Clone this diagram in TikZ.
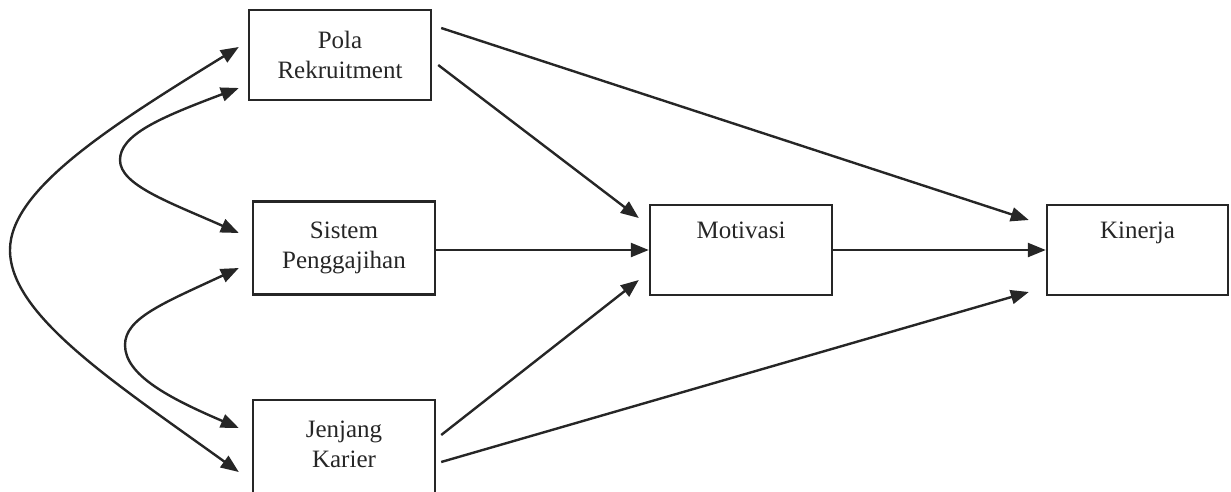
\documentclass[tikz,border=0pt]{standalone}
\usepackage{fontspec}
\setmainfont{Liberation Serif}
\usepackage{tikz}
\usetikzlibrary{arrows.meta,positioning}

\tikzset{
  box/.style={draw=black!85,line width=2.4pt,minimum width=182pt,minimum height=90pt,
    inner sep=0pt,align=center,text=black!85,font=\fontsize{25}{30}\selectfont},
  link/.style={line width=2.4pt,draw=black!85,-{Triangle[length=18pt,width=14pt]}},
  both/.style={line width=2.4pt,draw=black!85,
    {Triangle[length=18pt,width=14pt]}-{Triangle[length=18pt,width=14pt]}}
}

\begin{document}
\begin{tikzpicture}[x=1pt,y=1pt]
  \useasboundingbox (0,0) rectangle (1231,-491);
  % --- the three causes ---
  \node[box] (pola) at (340,-55) {Pola\\Rekruitment};
  \node[box,minimum height=93pt] (sistem) at (344,-248) {Sistem\\Penggajihan};
  \node[box,minimum height=98pt,text depth=9pt] (jenjang) at (344,-449) {Jenjang\\Karier};
  % --- mediator and outcome ---
  \node[box] (motivasi) at (741,-250) {Motivasi\\ \strut};
  \node[box,minimum width=181pt] (kinerja) at (1137.5,-250) {Kinerja\\ \strut};
  % bends of the correlation curves
  \coordinate (outerbend) at (10,-250);
  \coordinate (upperbend) at (120,-160);
  \coordinate (lowerbend) at (125,-345);
  % --- straight paths ---
  \draw[link] ([shift={(9,27)}]pola.east) -- ([shift={(-17,30)}]kinerja.west);
  \draw[link] ([shift={(6,-10)}]pola.east) -- ([shift={(-10,32)}]motivasi.west);
  \draw[link] (sistem.east |- motivasi.west) -- (motivasi.west);
  \draw[link] ([shift={(5,14)}]jenjang.east) -- ([shift={(-10,-30)}]motivasi.west);
  \draw[link] ([shift={(5,-13)}]jenjang.east) -- ([shift={(-17,-42)}]kinerja.west);
  \draw[link] (motivasi.east) -- (kinerja.west);
  % --- correlations on the left ---
  \draw[both] ([shift={(-9,8)}]pola.west) .. controls +(-130,-80) and +(0,60) .. (outerbend)
    .. controls +(0,-65) and +(-125,90) .. ([shift={(-13,-23)}]jenjang.west);
  \draw[both] ([shift={(-9,-33)}]pola.west) .. controls +(-80,-30) and +(0,25) .. (upperbend)
    .. controls +(0,-25) and +(-70,31) .. ([shift={(-13,15)}]sistem.west);
  \draw[both] ([shift={(-13,-20)}]sistem.west) .. controls +(-75,-35) and +(0,27) .. (lowerbend)
    .. controls +(0,-30) and +(-70,30) .. ([shift={(-13,21)}]jenjang.west);
\end{tikzpicture}
\end{document}
